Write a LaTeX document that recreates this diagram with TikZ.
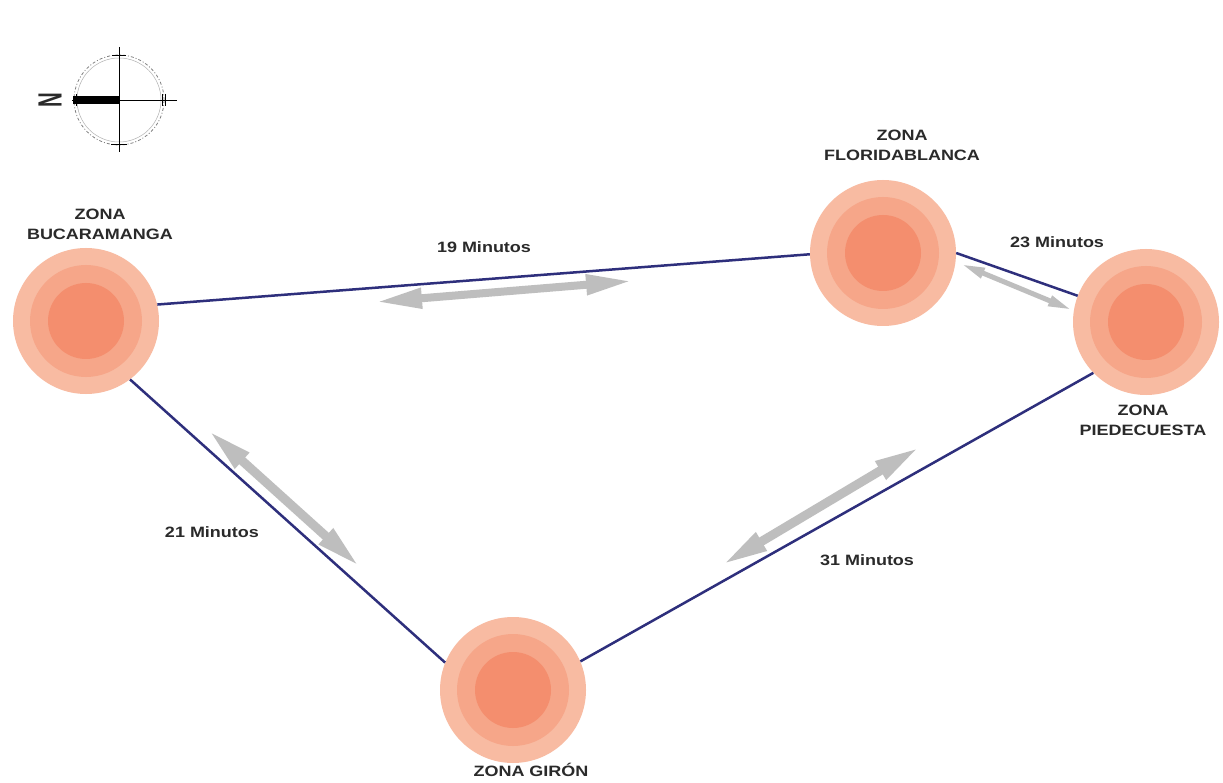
\documentclass[tikz,border=0pt]{standalone}
\usepackage{fontspec}
\setmainfont{Liberation Sans}
\newfontfamily\labfont[FakeStretch=1.2]{Liberation Sans}
\usetikzlibrary{arrows.meta}
\definecolor{zoneA}{HTML}{F8BBA2}
\definecolor{zoneB}{HTML}{F6A689}
\definecolor{zoneC}{HTML}{F48E6E}
\definecolor{road}{HTML}{2E2F7C}
\definecolor{agray}{HTML}{BEBEBE}
\definecolor{txt}{HTML}{2A2A2A}
\tikzset{
  zone/.style={circle, minimum size=146pt, inner sep=0pt, fill=zoneA,
    path picture={
      \fill[zoneB] (path picture bounding box.center) circle (56pt);
      \fill[zoneC] (path picture bounding box.center) circle (38pt);
    }},
  lab/.style={font=\labfont\bfseries\fontsize{15}{20}\selectfont, text=txt, align=center, inner sep=0pt},
  roadline/.style={draw=road, line width=2.5pt},
  garrow/.style={draw=agray, line width=#1},
  bigtips/.style={{Triangle[length=46pt,width=19pt]}-{Triangle[length=46pt,width=19pt]}},
  smalltips/.style={{Triangle[length=24pt,width=10pt]}-{Triangle[length=24pt,width=10pt]}}
}
\begin{document}
\begin{tikzpicture}[x=1pt,y=-1pt]
\path[use as bounding box, fill=white] (0,0) rectangle (1223,783);

% compass
\coordinate (cc) at (119,100);
\draw[gray, line width=0.8pt, dash pattern=on 3pt off 2pt on 1pt off 2pt] (cc) circle (45);
\draw[gray!60, line width=0.5pt] (cc) circle (42);
\draw[black, line width=0.7pt] (72,100) -- (177,100);
\draw[black, line width=0.7pt] (119,47) -- (119,152);
\draw[black, line width=0.8pt] (112,55) -- (126,55);
\draw[black, line width=1pt] (111,145) -- (127,145);
\draw[black, line width=0.7pt] (162,94) -- (162,106);
\draw[black, line width=0.7pt] (165,94) -- (165,106);
\draw[black, line width=0.7pt] (76,94) -- (76,106);
\fill[black] (73,96) rectangle (119,104);
\node[rotate=90, inner sep=0pt, font=\bfseries\fontsize{24}{24}\selectfont, text=txt] (north) at (50,100) {\scalebox{0.85}[1.4]{N}};

% zones
\node[zone] (buc) at (86,321) {};
\node[zone] (flo) at (883,253) {};
\node[zone] (pie) at (1146,322) {};
\node[zone] (gir) at (513,690) {};

% zone labels
\node[lab] (lbuc) at (100,224) {ZONA\\BUCARAMANGA};
\node[lab] (lflo) at (902,145) {ZONA\\FLORIDABLANCA};
\node[lab] (lpie) at (1143,420) {ZONA\\PIEDECUESTA};
\node[lab] (lgir) at (531,770) {ZONA GIRÓN};

% roads
\draw[roadline] (buc.13) -- (flo.181);
\draw[roadline] (flo.0) -- (pie.159);
\draw[roadline] (pie.224) -- (gir.23);
\draw[roadline] (buc.307) -- (gir.158);

% travel arrows
\coordinate (a1s) at (376,302);
\coordinate (a1e) at (632,281);
\coordinate (a2s) at (961,264);
\coordinate (a2e) at (1072,310);
\coordinate (a3s) at (208,430);
\coordinate (a3e) at (360,567);
\coordinate (a4s) at (920,447);
\coordinate (a4e) at (722,565);
\draw[garrow=8pt, bigtips] (a1s) -- (a1e);
\draw[garrow=5pt, smalltips] (a2s) -- (a2e);
\draw[garrow=9pt, bigtips] (a3s) -- (a3e);
\draw[garrow=9pt, bigtips] (a4s) -- (a4e);

% time labels
\node[lab] (t19) at (484,247) {19 Minutos};
\node[lab] (t23) at (1057,242) {23 Minutos};
\node[lab] (t21) at (212,532) {21 Minutos};
\node[lab] (t31) at (867,560) {31 Minutos};
\end{tikzpicture}
\end{document}
